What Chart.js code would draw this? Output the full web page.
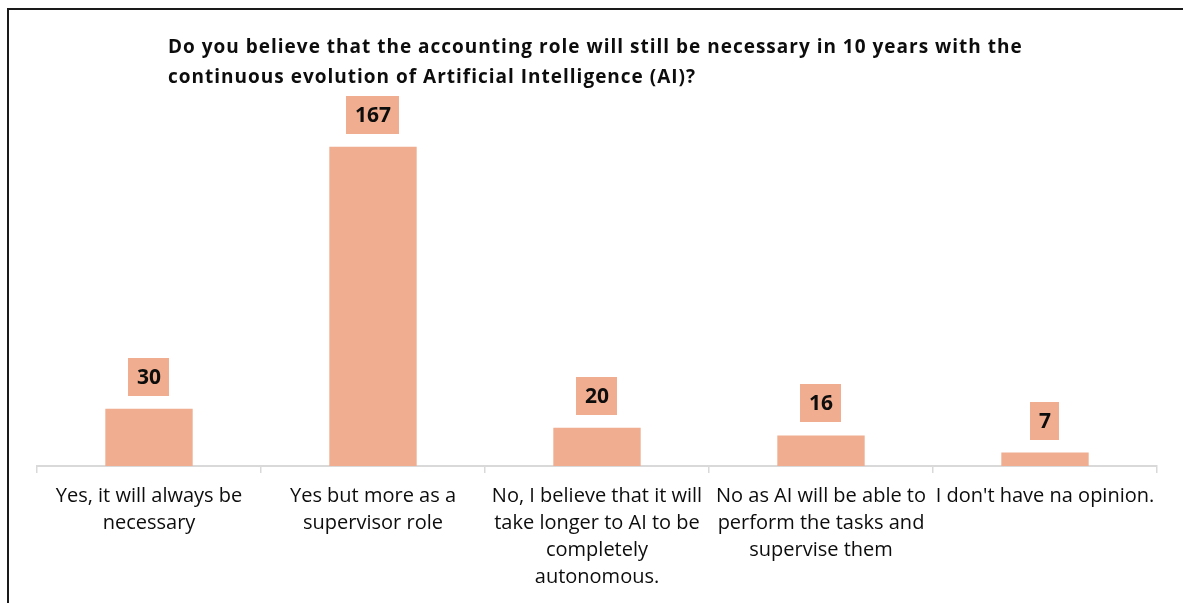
<!DOCTYPE html>
<html>
<head>
<meta charset="utf-8">
<title>Accounting role and AI</title>
<script src="https://cdn.jsdelivr.net/npm/chart.js@4"></script>
<style>
    html, body { margin: 0; padding: 0; background: #fff; }
    #wrap { position: relative; width: 1183px; height: 603px; overflow: hidden; }
    #frame {
        position: absolute; left: 7px; top: 8px; width: 1190px; height: 620px;
        border: 2px solid #1a1a1a; box-sizing: border-box;
    }
    #chartTitle {
        position: absolute; left: 168px; top: 31px; margin: 0;
        font-family: "Open Sans", sans-serif; font-weight: bold; font-size: 19px;
        line-height: 30px; color: #0d0d0d; letter-spacing: 1px;
    }
    canvas { position: absolute; left: 0; top: 0; }
</style>
</head>
<body>
<div id="wrap">
    <div id="frame"></div>
    <canvas id="roleChart" width="1183" height="603"></canvas>
    <h1 id="chartTitle">Do you believe that the accounting role will still be necessary in 10 years with the<br>continuous evolution of Artificial Intelligence (AI)?</h1>
</div>

<script>
// --- DATA ---
const answerLabels = [
    ['Yes, it will always be', 'necessary'],
    ['Yes but more as a', 'supervisor role'],
    ['No, I believe that it will', 'take longer to AI to be', 'completely', 'autonomous.'],
    ['No as AI will be able to', 'perform the tasks and', 'supervise them'],
    ["I don't have na opinion."]
];
const answerCounts = [30, 167, 20, 16, 7];

const barColor = '#f0ad8f';

// --- VALUE BOXES ABOVE EACH BAR ---
const valueBoxes = {
    id: 'valueBoxes',
    afterDatasetsDraw(chart) {
        const ctx = chart.ctx;
        const meta = chart.getDatasetMeta(0);
        ctx.save();
        ctx.font = 'bold 21px "Open Sans", sans-serif';
        ctx.textAlign = 'center';
        ctx.textBaseline = 'middle';
        meta.data.forEach((bar, i) => {
            const text = String(chart.data.datasets[0].data[i]);
            const w = ctx.measureText(text).width + 17;
            const h = 38;
            const bottom = bar.y - 13;
            ctx.fillStyle = barColor;
            ctx.fillRect(Math.round(bar.x - w / 2), Math.round(bottom - h), Math.round(w), h);
            ctx.fillStyle = '#0d0d0d';
            ctx.fillText(text, bar.x, bottom - h / 2 + 1);
        });
        ctx.restore();
    }
};

const ctx = document.getElementById('roleChart').getContext('2d');
new Chart(ctx, {
    type: 'bar',
    data: {
        labels: answerLabels,
        datasets: [{
            data: answerCounts,
            backgroundColor: barColor,
            borderWidth: 0,
            barPercentage: 1,
            categoryPercentage: 0.39
        }]
    },
    options: {
        responsive: false,
        animation: false,
        layout: { padding: { left: 37, right: 26, top: 122, bottom: 0 } },
        plugins: { legend: { display: false }, tooltip: { enabled: false }, title: { display: false } },
        scales: {
            x: {
                afterFit: (scale) => { scale.height = 137; },
                grid: {
                    drawOnChartArea: false, drawTicks: true, tickLength: 7,
                    color: '#d9d9d9', lineWidth: 1.5
                },
                border: { display: true, color: '#d9d9d9', width: 2 },
                ticks: {
                    color: '#0d0d0d', maxRotation: 0, autoSkip: false, padding: 10,
                    font: { family: '"Open Sans", sans-serif', size: 20, lineHeight: 1.35 }
                }
            },
            y: {
                display: false,
                min: 0,
                max: 180
            }
        }
    },
    plugins: [valueBoxes]
});
</script>
</body>
</html>
